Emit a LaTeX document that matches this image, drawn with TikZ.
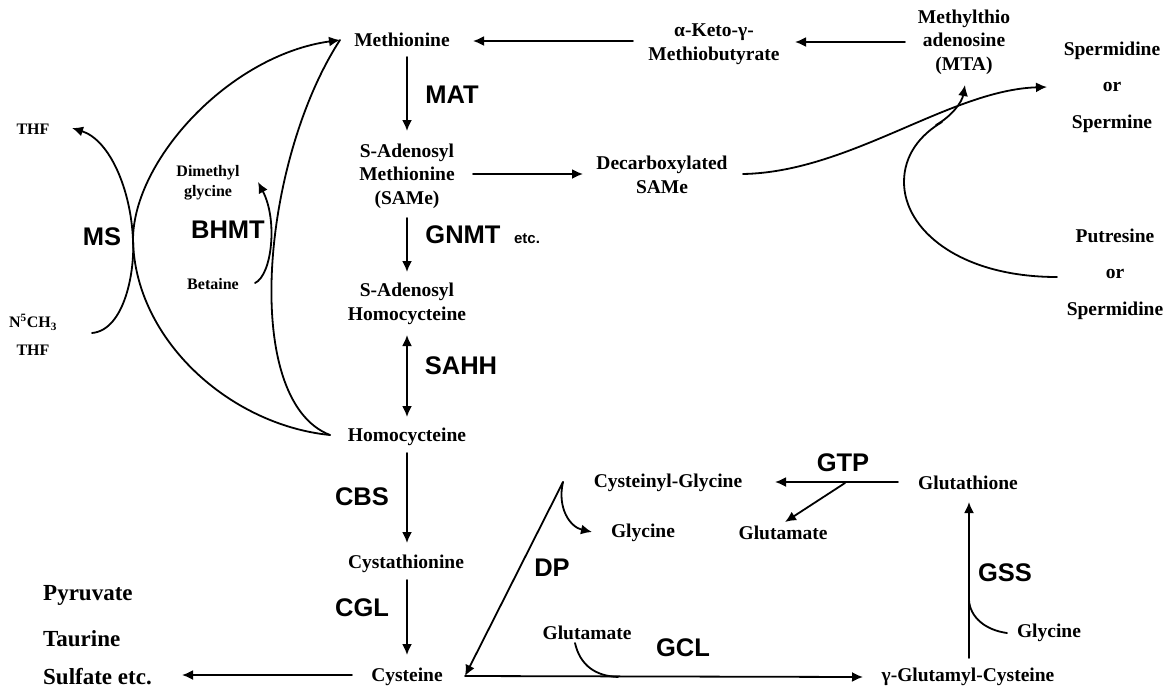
\documentclass[tikz,border=0pt]{standalone}
\usepackage{fontspec}
\setmainfont{Liberation Serif}
\setsansfont{Liberation Sans}
\usetikzlibrary{arrows.meta}
\begin{document}
\begin{tikzpicture}[x=1pt,y=-1pt,
  txt/.style={inner sep=0pt, align=center, font=\fontsize{19.5}{23.5}\selectfont\bfseries},
  wide/.style={inner sep=0pt, align=center, font=\fontsize{19.5}{36.5}\selectfont\bfseries},
  small/.style={inner sep=0pt, align=center, font=\fontsize{16}{20}\selectfont\bfseries},
  big/.style={inner sep=0pt, anchor=west, font=\fontsize{23}{28}\selectfont\bfseries},
  enz/.style={inner sep=0pt, font=\fontsize{25.5}{30}\selectfont\sffamily\bfseries},
  etcl/.style={inner sep=0pt, font=\fontsize{15}{18}\selectfont\sffamily\bfseries},
  conn/.style={line width=1.8pt, line cap=round},
  arr/.style={conn, -{Latex[length=11pt,width=10pt]}},
  darr/.style={conn, {Latex[length=11pt,width=10pt]}-{Latex[length=11pt,width=10pt]}}]
\useasboundingbox (0,0) rectangle (1171,689);

% ---------- text nodes ----------
\node[txt] (met) at (402,40) {Methionine};
\node[txt] (akmb) at (714,44) {α-Keto-γ-\\Methiobutyrate};
\node[txt] (mta) at (964,42) {Methylthio\\adenosine\\(MTA)};
\node[wide] (spd) at (1112,87) {Spermidine\\or\\Spermine};
\node[wide] (put) at (1115,274) {Putresine\\or\\Spermidine};
\node[txt] (same) at (407,176) {S-Adenosyl\\Methionine\\(SAMe)};
\node[txt] (dsame) at (662,175) {Decarboxylated\\SAMe};
\node[txt] (sah) at (407,304) {S-Adenosyl\\Homocycteine};
\node[txt] (hcy) at (407,437) {Homocycteine};
\node[txt] (cth) at (406,564) {Cystathionine};
\node[txt] (cys) at (407,677) {Cysteine};
\node[big] (pyr) at (43,595) {Pyruvate};
\node[big] (tau) at (43,639) {Taurine};
\node[big] (sul) at (43,677) {Sulfate etc.};
\node[txt] (cysgly) at (668,483) {Cysteinyl-Glycine};
\node[txt] (glyA) at (643,533) {Glycine};
\node[txt] (gluA) at (783,533) {Glutamate};
\node[txt] (gsh) at (968,483) {Glutathione};
\node[txt] (gluB) at (587,633) {Glutamate};
\node[txt] (ggc) at (968,677) {γ-Glutamyl-Cysteine};
\node[txt] (glyB) at (1049,633) {Glycine};
\node[small] (thfA) at (33,129) {THF};
\node[small] (dmg) at (208,183) {Dimethyl\\glycine};
\node[small] (bet) at (213,284) {Betaine};
\node[small] (n5) at (33,322) {N\textsuperscript{5}CH\textsubscript{3}};
\node[small] (thfB) at (33,350) {THF};

% ---------- enzyme labels ----------
\node[enz] (mat) at (452,95) {MAT};
\node[enz] (gnmt) at (463,235) {GNMT};
\node[etcl] (etc) at (527,239) {etc.};
\node[enz] (sahh) at (461,366) {SAHH};
\node[enz] (cbs) at (362,497) {CBS};
\node[enz] (cgl) at (362,608) {CGL};
\node[enz] (ms) at (102,237) {MS};
\node[enz] (bhmt) at (228,230) {BHMT};
\node[enz] (dp) at (552,568) {DP};
\node[enz] (gtp) at (843,463) {GTP};
\node[enz] (gcl) at (683,648) {GCL};
\node[enz] (gss) at (1005,573) {GSS};

% ---------- connector end points ----------
\coordinate (akmbL) at (633,41);
\coordinate (metR) at (473,41);
\coordinate (mtaL) at (905,42);
\coordinate (akmbR) at (795,42);
\coordinate (metB) at (407,57);
\coordinate (sameT) at (407,131);
\coordinate (sameR) at (473,174);
\coordinate (dsameL) at (583,174);
\coordinate (sameB) at (407,218);
\coordinate (sahT) at (407,272);
\coordinate (sahB) at (407,335);
\coordinate (hcyT) at (407,417);
\coordinate (hcyB) at (407,453);
\coordinate (cthT) at (407,543);
\coordinate (cthB) at (407,580);
\coordinate (cysT) at (407,655);
\coordinate (cysL) at (352,675);
\coordinate (sulR) at (182,675);
\coordinate (dpTop) at (563,482);
\coordinate (cysR) at (465,676);
\coordinate (ggcL) at (863,677);
\coordinate (ggcT) at (969,658);
\coordinate (gshB) at (969,502);
\coordinate (gshL) at (898,482);
\coordinate (cgR) at (775,482);
\coordinate (gtpJ) at (845,483);
\coordinate (gluAT) at (785,522);
\coordinate (hcyL) at (330,435);
\coordinate (metL) at (340,40);
\coordinate (dsameR) at (743,174);
\coordinate (spdL) at (1047,87);
\coordinate (mtaB) at (965,85);
\coordinate (putL) at (1057,277);

% ---------- straight connectors ----------
\draw[arr] (akmbL) -- (metR);
\draw[arr] (mtaL) -- (akmbR);
\draw[arr] (metB) -- (sameT);
\draw[arr] (sameR) -- (dsameL);
\draw[arr] (sameB) -- (sahT);
\draw[darr] (sahB) -- (hcyT);
\draw[arr] (hcyB) -- (cthT);
\draw[arr] (cthB) -- (cysT);
\draw[arr] (cysL) -- (sulR);
\draw[arr] (dpTop) -- (cysR);
\draw[arr] (cysR) -- (ggcL);
\draw[arr] (ggcT) -- (gshB);
\draw[arr] (gshL) -- (cgR);
\draw[arr] (gtpJ) -- (gluAT);

% ---------- curved connectors ----------
% MS outer arc and BHMT inner arc: Homocycteine -> Methionine
\draw[arr] (hcyL) .. controls (230,425) and (135,340) .. (133,240)
  .. controls (133,160) and (230,55) .. (metL);
\draw[conn] (hcyL) .. controls (240,400) and (262,160) .. (metL);
% MS side reaction
\draw[arr] (92,333) .. controls (125,330) and (135,270) .. (133,240)
  .. controls (131,190) and (110,140) .. (72,128);
% BHMT side reaction
\draw[arr] (255,283) .. controls (272,275) and (278,220) .. (258,182);
% Decarboxylated SAMe -> Spermidine / MTA
\draw[arr] (dsameR) .. controls (850,172) and (950,90) .. (spdL);
\draw[arr] (936,125) .. controls (952,116) and (962,102) .. (mtaB);
\draw[conn] (putL) .. controls (960,277) and (904,230) .. (904,182)
  .. controls (904,155) and (920,135) .. (942,122);
% DP side product glycine
\draw[arr] (dpTop) .. controls (557,508) and (570,527) .. (592,532);
% GCL glutamate input
\draw[conn] (575,643) .. controls (580,665) and (595,676) .. (618,677);
% GSS glycine input
\draw[conn] (1007,633) .. controls (985,630) and (970,617) .. (969,600);
\end{tikzpicture}
\end{document}
